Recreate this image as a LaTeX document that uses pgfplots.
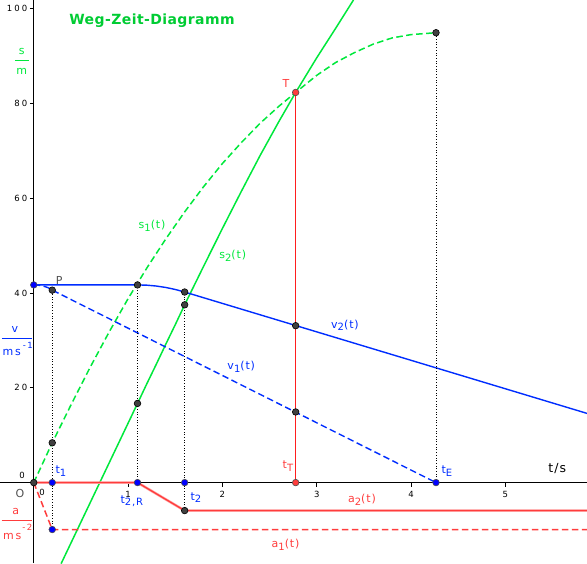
\documentclass[border=0pt]{standalone}
\usepackage{pgfplots}
\pgfplotsset{compat=1.18}
\usepackage{fontspec}
\setmainfont{DejaVu Sans}
\newfontfamily\lblfont[LetterSpace=8]{DejaVu Sans}
\newfontfamily\tickfont[LetterSpace=25]{DejaVu Sans}
\newfontfamily\titlefont[LetterSpace=3]{DejaVu Sans}
\definecolor{ggreen}{RGB}{0,232,60}
\definecolor{gtitle}{RGB}{0,204,51}
\definecolor{gblue}{RGB}{0,45,255}
\definecolor{gred}{RGB}{255,60,60}
\definecolor{gtred}{RGB}{255,30,30}
\definecolor{gpt}{RGB}{64,64,64}
\definecolor{glbl}{RGB}{80,80,80}
\newcommand\sub[1]{\raisebox{-0.45ex}{\fontsize{10}{10}\selectfont #1}}
\begin{document}
\begin{tikzpicture}
\begin{axis}[
  scale only axis, width=587pt, height=563pt,
  xmin=-0.358, xmax=5.866, ymin=-16.96, ymax=101.8,
  axis lines=middle,
  axis line style={black, line width=0.8pt, -},
  xtick={1,2,3,4,5}, ytick={20,40,60,80,100},
  tick style={black, line width=0.7pt},
  tick align=outside,
  major tick length=4pt,
  /pgf/number format/assume math mode=true,
  ticklabel style={font=\tickfont\fontsize{8.5}{8.5}\selectfont},
  xticklabel style={yshift=-1pt},
  yticklabel style={xshift=1pt},
  clip=true,
  dashed line/.style={dash pattern=on 6.5pt off 3.5pt},
]
% s1 (dashed green)
\addplot[ggreen, line width=1.5pt, dashed line] coordinates {
(0,0)(0.196,8.4)(0.4,16.6)(0.6,24.4)(0.8,31.8)(1.0,38.8)(1.2,45.3)(1.4,51.4)
(1.6,57.1)(1.8,62.4)(2.0,67.3)(2.2,71.7)(2.4,75.8)(2.6,79.4)(2.777,82.3)
(3.0,85.9)(3.2,88.6)(3.4,90.7)(3.6,92.5)(3.8,93.8)(4.0,94.5)(4.265,94.9)};
% s2 (solid green)
\addplot[ggreen, line width=1.5pt] coordinates {
(0.29,-17.1)(1.1,16.7)(1.2,20.9)(1.3,25.0)(1.4,29.2)(1.5,33.3)(1.6,37.5)
(1.8,45.6)(2.0,53.6)(2.2,61.4)(2.4,69.0)(2.6,76.2)(2.777,82.3)(3.0,89.6)
(3.2,95.8)(3.39,101.8)};
% v2 (solid blue)
\addplot[gblue, line width=1.4pt] coordinates {
(0,41.7)(1.1,41.7)(1.2,41.64)(1.3,41.46)(1.4,41.16)(1.5,40.74)(1.6,40.2)(5.866,14.6)};
% v1 (dashed blue)
\addplot[gblue, line width=1.4pt, dashed line] coordinates {
(0,41.7)(0.05,41.64)(0.1,41.45)(0.15,41.14)(0.196,40.6)(4.265,0)};
% a1 (dashed red)
\addplot[gred, line width=1.5pt, dashed line] coordinates {
(0,0)(0.196,-9.9)(5.866,-9.9)};
% a2 (solid red)
\addplot[gred!45, line width=2.6pt] coordinates {
(0,0)(1.1,0)(1.6,-5.9)(5.866,-5.9)};
\addplot[gred, line width=1.3pt] coordinates {
(0,0)(1.1,0)(1.6,-5.9)(5.866,-5.9)};
% T vertical line (comb from the t axis up to T)
\addplot[ycomb, draw=gtred, line width=1.2pt, mark=none] coordinates {(2.777,82.3)};
% dotted helper lines
\addplot[black, line width=0.7pt, dotted] coordinates {(0.196,-9.9)(0.196,40.6)};
\addplot[black, line width=0.7pt, dotted] coordinates {(1.1,0)(1.1,41.7)};
\addplot[black, line width=0.7pt, dotted] coordinates {(1.6,-5.9)(1.6,40.2)};
\addplot[black, line width=0.7pt, dotted] coordinates {(4.265,0)(4.265,94.9)};
% points
\addplot[only marks, mark=*, mark size=3.3pt, mark options={fill=gpt, draw=black, line width=0.6pt}] coordinates {
(0,0)(0.196,8.4)(0.196,40.6)(1.1,41.7)(1.1,16.7)(1.6,40.2)(1.6,37.5)(1.6,-5.9)
(2.777,33.1)(2.777,14.9)(4.265,94.9)};
\addplot[only marks, mark=*, mark size=3.3pt, mark options={fill=blue, draw=black!70, line width=0.6pt}] coordinates {
(0,41.7)(0.196,0)(1.1,0)(1.6,0)(4.265,0)(0.196,-9.9)};
\addplot[only marks, mark=*, mark size=3.3pt, mark options={fill=gred, draw=black!70, line width=0.6pt}] coordinates {
(2.777,82.3)(2.777,0)};
% title
\node[font=\titlefont\bfseries\fontsize{14}{14}\selectfont, text=gtitle] at (axis cs:1.254,97.4) {Weg-Zeit-Diagramm};
% unit fractions
\node[font=\lblfont\fontsize{11}{11}\selectfont, text=ggreen] at (axis cs:-0.128,91.0) {s};
\node[font=\lblfont\fontsize{11}{11}\selectfont, text=ggreen] at (axis cs:-0.128,86.7) {m};
\draw[ggreen, line width=0.8pt] (axis cs:-0.199,89.0) -- (axis cs:-0.051,89.0);
\node[font=\lblfont\fontsize{11}{11}\selectfont, text=gblue] at (axis cs:-0.199,32.2) {v};
\draw[gblue, line width=0.8pt] (axis cs:-0.337,30.4) -- (axis cs:-0.019,30.4);
\node[font=\lblfont\fontsize{11}{11}\selectfont, text=gblue] at (axis cs:-0.234,27.4) {m\,s};
\node[font=\lblfont\fontsize{8.5}{8.5}\selectfont, text=gblue] at (axis cs:-0.064,28.9) {-\,1};
\node[font=\lblfont\fontsize{11}{11}\selectfont, text=gred] at (axis cs:-0.191,-6.1) {a};
\draw[gred, line width=0.8pt] (axis cs:-0.34,-7.9) -- (axis cs:-0.016,-7.9);
\node[font=\lblfont\fontsize{11}{11}\selectfont, text=gred] at (axis cs:-0.229,-11.3) {m\,s};
\node[font=\lblfont\fontsize{8.5}{8.5}\selectfont, text=gred] at (axis cs:-0.067,-9.5) {-\,2};
% zero tick labels and origin
\node[font=\tickfont\fontsize{8.5}{8.5}\selectfont] at (axis cs:0.087,-2.1) {0};
\node[font=\tickfont\fontsize{8.5}{8.5}\selectfont] at (axis cs:-0.125,1.5) {0};
\node[font=\lblfont\fontsize{11}{11}\selectfont, text=glbl] at (axis cs:-0.146,-2.2) {O};
% point labels
\node[font=\lblfont\fontsize{11}{11}\selectfont, text=glbl] at (axis cs:0.27,42.7) {P};
\node[font=\lblfont\fontsize{11}{11}\selectfont, text=gred] at (axis cs:2.675,84.2) {T};
\node[font=\lblfont\fontsize{11}{11}\selectfont, text=gred] at (axis cs:2.695,3.5) {t\sub{T}};
\node[font=\lblfont\fontsize{11}{11}\selectfont, text=gblue] at (axis cs:0.288,2.4) {t\sub{1}};
\node[font=\lblfont\fontsize{11}{11}\selectfont, text=gblue] at (axis cs:1.04,-3.9) {t\sub{2,R}};
\node[font=\lblfont\fontsize{11}{11}\selectfont, text=gblue] at (axis cs:1.72,-3.2) {t\sub{2}};
\node[font=\lblfont\fontsize{11}{11}\selectfont, text=gblue] at (axis cs:4.38,2.4) {t\sub{E}};
\node[font=\lblfont\fontsize{12.5}{12.5}\selectfont, text=black] at (axis cs:5.55,2.9) {t/s};
% curve labels
\node[font=\lblfont\fontsize{11}{11}\selectfont, text=ggreen] at (axis cs:1.254,54.1) {s\sub{1}(t)};
\node[font=\lblfont\fontsize{11}{11}\selectfont, text=ggreen] at (axis cs:2.11,47.8) {s\sub{2}(t)};
\node[font=\lblfont\fontsize{11}{11}\selectfont, text=gblue] at (axis cs:3.30,33.2) {v\sub{2}(t)};
\node[font=\lblfont\fontsize{11}{11}\selectfont, text=gblue] at (axis cs:2.20,24.4) {v\sub{1}(t)};
\node[font=\lblfont\fontsize{11}{11}\selectfont, text=gred] at (axis cs:3.48,-3.7) {a\sub{2}(t)};
\node[font=\lblfont\fontsize{11}{11}\selectfont, text=gred] at (axis cs:2.67,-13.2) {a\sub{1}(t)};
\end{axis}
\pgfresetboundingbox
\path (current axis.south west) rectangle (current axis.north east);
\end{tikzpicture}
\end{document}
